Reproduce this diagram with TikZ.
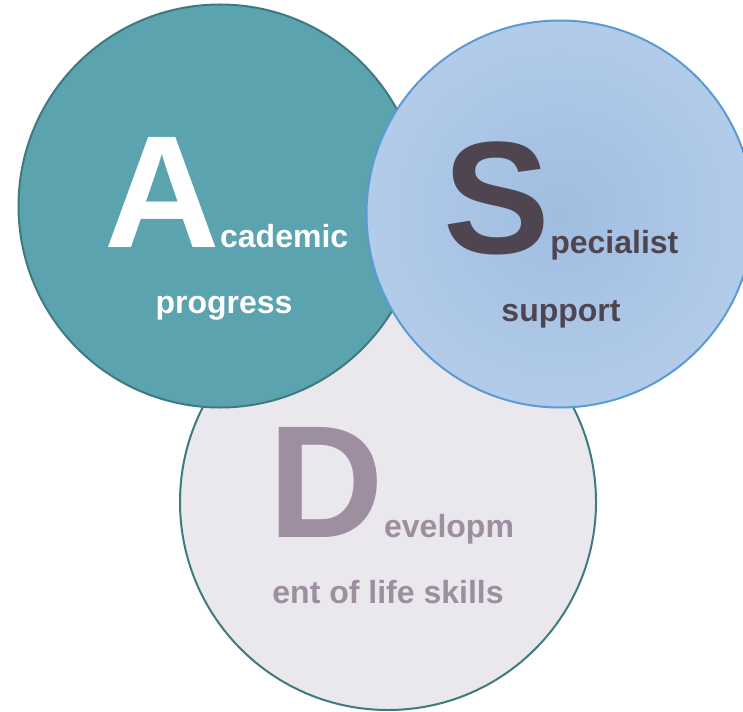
\documentclass[tikz,border=0pt]{standalone}
\usepackage{fontspec}
\setmainfont{Liberation Sans}
\usetikzlibrary{positioning}
\definecolor{tealfill}{HTML}{5BA3AE}
\definecolor{tealline}{HTML}{3F7A80}
\definecolor{bluein}{HTML}{A0BDE0}
\definecolor{blueout}{HTML}{B2CBE9}
\definecolor{blueline}{HTML}{5B9BD5}
\definecolor{greyfill}{HTML}{EAE8EC}
\definecolor{plumtext}{HTML}{4E4550}
\definecolor{mauvetext}{HTML}{9D8EA0}
\tikzset{
    bubble/.style={
      circle,
      line width=2pt,
      inner sep=0pt},
    bigletter/.style={
      inner sep=0pt,
      anchor=base west,
      font=\fontsize{160}{160}\selectfont\bfseries},
    word/.style={
      inner sep=0pt,
      font=\fontsize{32}{36}\selectfont\bfseries},
}
\begin{document}
\begin{tikzpicture}[x=1pt,y=-1pt]
    \clip (0,0) rectangle (743,711);
    % circles
    \node (dcirc) [bubble, draw=tealline, fill=greyfill, minimum size=416pt] at (388,502) {};
    \node (acirc) [bubble, draw=tealline, fill=tealfill, minimum size=403pt] at (220,206) {};
    \node (scirc) [bubble, draw=blueline, inner color=bluein, outer color=blueout,
                   minimum size=387pt] at (560,214) {};
    % Academic progress
    \node (aletter) [bigletter, text=white] at (104,247) {A};
    \node (aword) [word, text=white, anchor=base west] [right=0pt of aletter.base east, anchor=base west] {cademic};
    \node (aline) [word, text=white, anchor=base] at (224,313) {progress};
    % Specialist support
    \node (sletter) [bigletter, text=plumtext] at (443,253) {S};
    \node (sword) [word, text=plumtext] [right=0pt of sletter.base east, anchor=base west] {pecialist};
    \node (sline) [word, text=plumtext, anchor=base] at (561,321) {support};
    % Development of life skills
    \node (dletter) [bigletter, text=mauvetext] at (268,537) {D};
    \node (dword) [word, text=mauvetext] [right=0pt of dletter.base east, anchor=base west] {evelopm};
    \node (dline) [word, text=mauvetext, anchor=base] at (388,603) {ent of life skills};
\end{tikzpicture}
\end{document}
